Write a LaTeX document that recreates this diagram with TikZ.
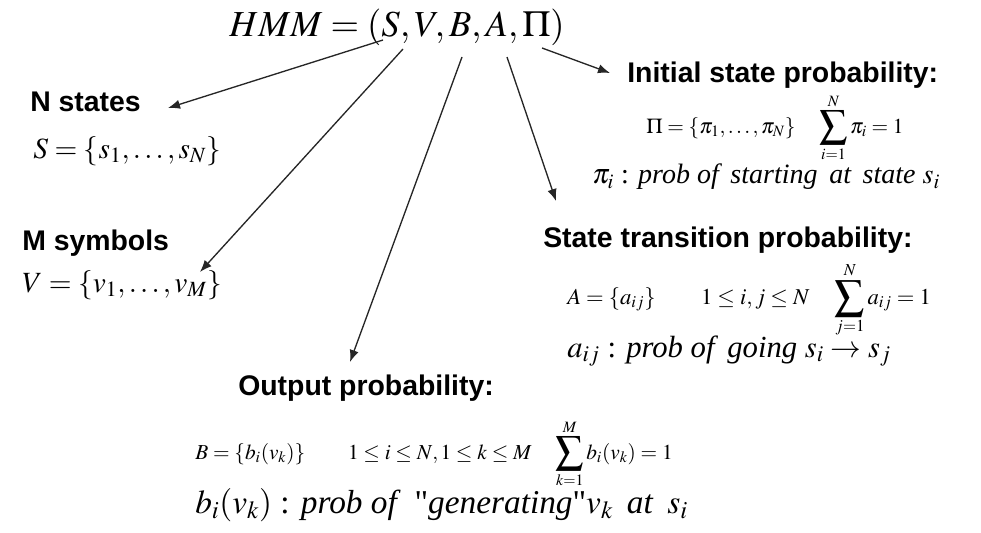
\documentclass[tikz,border=0pt]{standalone}
\usepackage{mathptmx}
\usepackage[no-math]{fontspec}
\setmainfont{Liberation Serif}
\setsansfont{Liberation Sans}
\newfontfamily\quotefont{Liberation Serif}
\usepackage{tikz}
\usetikzlibrary{arrows.meta,positioning}
\newcommand{\bigsum}{\mathop{\vcenter{\hbox{\scalebox{1.3}{$\displaystyle\sum$}}}}\limits}
\tikzset{
  hmmarrow/.style={-{Latex[length=9pt,width=7pt]},line width=1pt,draw=black!85},
  title/.style={inner sep=0pt,font=\fontsize{27.5}{32}\selectfont},
  label/.style={inner sep=0pt,anchor=west,font=\sffamily\bfseries\fontsize{21.3}{25}\selectfont},
  formula/.style={inner sep=0pt,anchor=west,font=\fontsize{22}{26}\selectfont},
  smallformula/.style={inner sep=0pt,anchor=west,font=\fontsize{16}{20}\selectfont},
}

\begin{document}
\begin{tikzpicture}[x=0.75pt,y=-0.75pt]
  \useasboundingbox (0,0) rectangle (981,532);
  % the model tuple
  \node[title] (hmm) at (397,27) {$HMM=(S,V,B,A,\Pi)$};
  \coordinate (fromS) at (383,40);
  \coordinate (fromV) at (403,49);
  \coordinate (fromB) at (462,57);
  \coordinate (fromA) at (507,57);
  \coordinate (fromPi) at (542,48);

  % states and symbols
  \node[label] (nstates) at (30,102) {N states};
  \node[formula] (sset) at (33,151) {$S=\{s_1,\ldots,s_N\}$};
  \node[label] (msymbols) at (22,243) {M symbols};
  \node[formula] (vset) at (22,285) {$V=\{v_1,\ldots,v_M\}$};

  % initial state probability
  \node[label] (initial) at (627,75) {Initial state probability:};
  \node[smallformula] (piset) at (646,128) {$\Pi=\{\pi_1,\ldots,\pi_N\}\quad\bigsum_{i=1}^{N}\pi_i=1$};
  \node[formula,font=\fontsize{21}{25}\selectfont] (pidef) at (592,177) {$\pi_i$ : \textit{prob of\, starting\, at\, state} $s_i$};

  % state transition probability
  \node[label] (trans) at (543,240) {State transition probability:};
  \node[smallformula,font=\fontsize{17}{21}\selectfont] (aset) at (567,300) {$A=\{a_{ij}\}\qquad 1\le i,j\le N\quad\bigsum_{j=1}^{N}a_{ij}=1$};
  \node[formula,font=\fontsize{23}{27}\selectfont] (adef) at (567,351) {$a_{ij}$ : \textit{prob of\, going} $s_i\rightarrow s_j$};

  % output probability
  \node[label] (output) at (238,388) {Output probability:};
  \node[smallformula] (bset) at (195,454) {$B=\{b_i(v_k)\}\qquad 1\le i\le N,1\le k\le M\quad\bigsum_{k=1}^{M}b_i(v_k)=1$};
  \node[formula,font=\fontsize{25}{29}\selectfont] (bdef) at (195,505) {$b_i(v_k)$ : \textit{prob of}\, {\quotefont"}\textit{generating}{\quotefont"}$v_k$\, \textit{at}\, $s_i$};

  \coordinate (toS) at (168,108);
  \coordinate (toV) at (200,272);
  \coordinate (toB) at (350,362);
  \coordinate (toA) at (556,201);
  \coordinate (toPi) at (610,73);
  \draw[hmmarrow] (fromS) -- (toS);
  \draw[hmmarrow] (fromV) -- (toV);
  \draw[hmmarrow] (fromB) -- (toB);
  \draw[hmmarrow] (fromA) -- (toA);
  \draw[hmmarrow] (fromPi) -- (toPi);
\end{tikzpicture}
\end{document}
